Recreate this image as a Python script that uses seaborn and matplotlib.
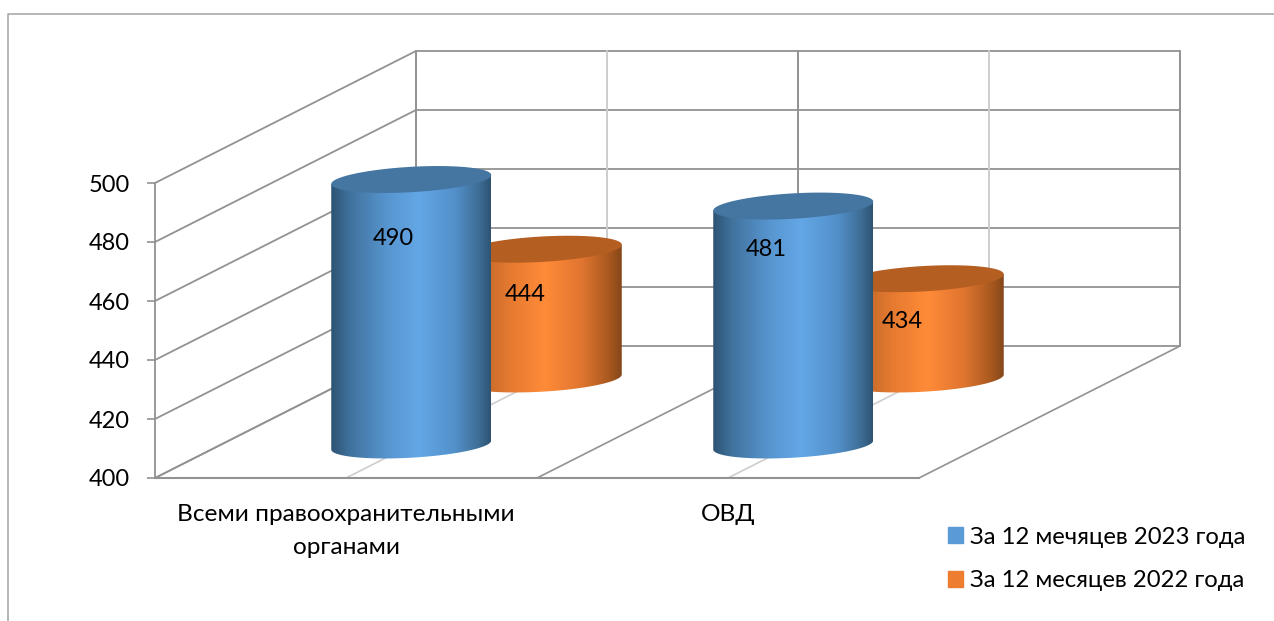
import numpy as np
import pandas as pd
import matplotlib
matplotlib.use('Agg')
import matplotlib.pyplot as plt
import seaborn as sns
from matplotlib.colors import LinearSegmentedColormap
from matplotlib.lines import Line2D
from matplotlib.patches import Patch, Polygon

categories = ['Всеми правоохранительными\nорганами', 'ОВД']
series_names = ['За 12 мечяцев 2023 года', 'За 12 месяцев 2022 года']
values_2023 = [490, 481]
values_2022 = [444, 434]
y_ticks = [400, 420, 440, 460, 480, 500]

W, H = 1274, 621

sns.set_theme(style='white')
plt.rcParams['font.family'] = ['Lato', 'Open Sans', 'DejaVu Sans']

df = pd.DataFrame({
    'category': categories * 2,
    'series': [series_names[0]] * 2 + [series_names[1]] * 2,
    'value': values_2023 + values_2022,
})

fig = plt.figure(figsize=(W / 100, H / 100), dpi=100, facecolor='white')
# front plane of the 3d box
ax = fig.add_axes([155 / W, 1 - 478 / H, 764 / W, 295 / H])
ax.patch.set_alpha(0)

sns.barplot(data=df, x='category', y='value', hue='series', dodge=False, width=160 / 382,
            palette=['#5B9BD5', '#ED7D31'], legend=False, ax=ax)
ax.set_xlim(-0.5, 1.5)
ax.set_ylim(400, 500)

# depth of the box in data units
DX = 261 / 382
DY = 132 / 2.95
DEPTHS = [0.25, 0.75]
DISC_DEPTH = 0.102  # radius of the cylinder along the depth direction

GRID = '#929292'
LIGHT = '#cdcdcd'

# side and back walls
for v in y_ticks:
    ax.plot([-0.5, -0.5 + DX, 1.5 + DX], [v, v + DY, v + DY], color=GRID, lw=1.3,
            clip_on=False, zorder=1)
for x, c in zip([-0.5, 0, 0.5, 1, 1.5], [GRID, LIGHT, GRID, LIGHT, GRID]):
    ax.plot([x + DX, x + DX], [400 + DY, 500 + DY], color=c, lw=1.4, clip_on=False, zorder=1)
    ax.plot([x, x + DX], [400, 400 + DY], color=c, lw=1.2, clip_on=False, zorder=1)

blue_cmap = LinearSegmentedColormap.from_list('blue', [
    (0, '#2d5373'), (0.12, '#41739e'), (0.35, '#5795cf'), (0.55, '#63a7e6'),
    (0.78, '#5290c9'), (0.92, '#3f6f98'), (1, '#2e5473')])
orange_cmap = LinearSegmentedColormap.from_list('orange', [
    (0, '#8f4d1e'), (0.12, '#c0682a'), (0.3, '#e57a30'), (0.52, '#ff8b38'),
    (0.75, '#e07530'), (0.92, '#a9591f'), (1, '#85471a')])
cmaps = [blue_cmap, orange_cmap]
top_colors = ['#4576a2', '#b45e22']
label_offsets = [[(-18, -59), (-27, -43)], [(-17, -45), (-21, -43)]]

gradient = np.linspace(0, 1, 256)[None, :]
theta = np.linspace(0, 2 * np.pi, 241)

for s, container in enumerate(ax.containers):
    depth = DEPTHS[s]
    for b, bar in enumerate(container):
        bar.set_visible(False)
        half = bar.get_width() / 2
        xc = bar.get_x() + half + depth * DX
        value = bar.get_height()
        base = 400 + depth * DY
        top = value + depth * DY
        shear_x = DISC_DEPTH * DX
        rx = np.sqrt(half ** 2 - shear_x ** 2)
        ex = rx * np.cos(theta) + shear_x * np.sin(theta)
        ey = DISC_DEPTH * DY * np.sin(theta)
        # side of the cylinder: the front half of the lower disc, then up to the top disc
        i_right = np.argmax(ex)
        i_left = np.argmin(ex)
        front = np.r_[i_left:len(theta), 0:i_right + 1]
        lower = np.column_stack([xc + ex[front], base + ey[front]])
        upper = np.array([[xc + half, top + ey[i_right]], [xc - half, top + ey[i_left]]])
        outline = Polygon(np.vstack([lower, upper]), closed=True, transform=ax.transData)
        im = ax.imshow(gradient, cmap=cmaps[s], aspect='auto', interpolation='bilinear',
                       extent=[xc - half, xc + half, base - 30, top + 30], zorder=3 + 2 * (1 - s))
        im.set_clip_box(fig.bbox)
        im.set_clip_path(outline)
        ax.add_patch(Polygon(np.column_stack([xc + ex, top + ey]), closed=True, fc=top_colors[s],
                             ec='none', clip_on=False, zorder=4 + 2 * (1 - s)))
        dx_px, dy_px = label_offsets[s][b]
        ax.annotate(str(int(value)), xy=(xc, top), xytext=(dx_px * 0.72, dy_px * 0.72),
                    textcoords='offset points', ha='center', va='center', fontsize=17,
                    color='black', zorder=8, annotation_clip=False)

ax.set_xlim(-0.5, 1.5)
ax.set_ylim(400, 500)

sns.despine(ax=ax, top=True, right=True)
ax.spines['left'].set_color(GRID)
ax.spines['bottom'].set_color(GRID)
ax.spines['left'].set_linewidth(1.3)
ax.spines['bottom'].set_linewidth(1.5)
ax.set_yticks(y_ticks)
ax.tick_params(axis='y', left=True, length=6, width=1.2, color=GRID, pad=12, labelsize=17,
               labelcolor='black')
ax.tick_params(axis='x', bottom=False, pad=13, labelsize=17.6, labelcolor='black')
ax.set_xlabel('')
ax.set_ylabel('')
for lab in ax.get_xticklabels():
    lab.set_linespacing(1.68)

handles = [Patch(color='#5B9BD5'), Patch(color='#ED7D31')]
fig.legend(handles, series_names, loc='upper left', bbox_to_anchor=(938 / W, 1 - 517 / H),
           frameon=False, fontsize=17.2, handlelength=0.63, handleheight=0.63, handletextpad=0.32,
           labelspacing=0.95, labelcolor='black', borderpad=0.4, borderaxespad=0)

# outer chart frame, only top and left are in the picture
fig.add_artist(Line2D([8 / W, 8 / W, 1], [0, 1 - 14 / H, 1 - 14 / H], color='#a3a3a3', lw=1.1))

fig.savefig('out.png', dpi=100)
